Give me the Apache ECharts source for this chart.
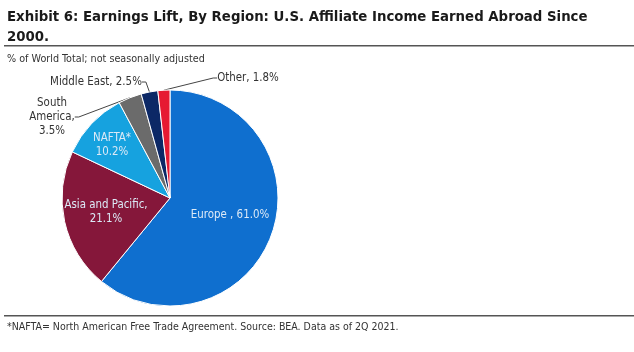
<!DOCTYPE html>
<html>
<head>
<meta charset="utf-8">
<script src="https://cdn.jsdelivr.net/npm/echarts@6/dist/echarts.min.js"></script>
<style>
html, body { margin: 0; padding: 0; background: #fff; }
#chart { width: 634px; height: 352px; }
</style>
</head>
<body>
<div id="chart"></div>
<script>
var regions = ['Europe ', 'Asia and Pacific', 'NAFTA*', 'South America', 'Middle East', 'Other'];
var shares = [61.0, 21.1, 10.2, 3.5, 2.5, 1.8];
var colors = ['#0f6fcf', '#85173a', '#16a2df', '#6b6b6b', '#0c2866', '#e61a32'];

var FONT = '"Liberation Sans Narrow", "DejaVu Sans Condensed", sans-serif';

// label placement (x, y) for each slice, in pixels
var labelPos = [
    [230, 215],
    [106, 212],
    [112, 145],
    [52, 117],
    [96, 82],
    [248, 78]
];

function labelText(i) {
    var v = shares[i].toFixed(1) + '%';
    if (i == 0) return 'Europe , ' + v;
    if (i == 1) return 'Asia and Pacific,\n' + v;
    if (i == 2) return 'NAFTA*\n' + v;
    if (i == 3) return 'South\nAmerica,\n' + v;
    return regions[i] + ', ' + v;
}

var pieData = [];
for (var i = 0; i < regions.length; ++i) {
    var inside = i < 3;
    pieData.push({
        name: regions[i],
        value: shares[i],
        itemStyle: {color: colors[i]},
        label: {
            position: inside ? 'inside' : 'outside',
            color: inside ? '#dce9f6' : '#333',
            formatter: labelText(i)
        },
        labelLine: {show: !inside, lineStyle: {color: '#444', width: 1}, length: 5, length2: 4}
    });
}

var option = {
    animation: false,
    graphic: [
        {type: 'text', left: 7, top: 7, style: {text: 'Exhibit 6: Earnings Lift, By Region: U.S. Affiliate Income Earned Abroad Since\n2000.', font: 'bold 14.8px ' + FONT, fill: '#1a1a1a', lineHeight: 20}},
        {type: 'rect', shape: {x: 4, y: 45, width: 630, height: 1.5}, style: {fill: '#555'}},
        {type: 'text', left: 7, top: 54, style: {text: '% of World Total; not seasonally adjusted', font: '10.7px ' + FONT, fill: '#333'}},
        {type: 'rect', shape: {x: 4, y: 315, width: 630, height: 1.5}, style: {fill: '#555'}},
        {type: 'text', left: 7, top: 322, style: {text: '*NAFTA= North American Free Trade Agreement. Source: BEA. Data as of 2Q 2021.', font: '10.5px ' + FONT, fill: '#333'}}
    ],
    series: [
        {
            type: 'pie',
            center: [170, 198],
            radius: [0, 108],
            startAngle: 90,
            clockwise: true,
            data: pieData,
            itemStyle: {borderColor: '#fff', borderWidth: 1},
            label: {fontFamily: FONT, fontSize: 11.4, lineHeight: 14, align: 'center', overflow: 'none'},
            labelLayout: function (params) {
                var p = labelPos[params.dataIndex];
                return {x: p[0], y: p[1], align: 'center', verticalAlign: 'middle'};
            }
        }
    ]
};

var myChart = echarts.init(document.getElementById('chart'));
myChart.setOption(option);
</script>
</body>
</html>
